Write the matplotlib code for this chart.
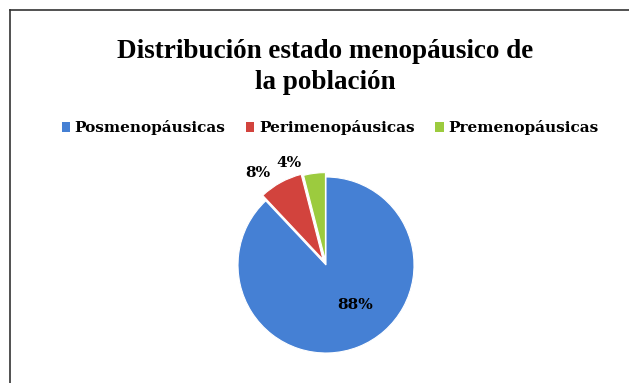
import matplotlib
matplotlib.use("Agg")
import matplotlib.pyplot as plt
from matplotlib.lines import Line2D
from matplotlib.patches import Patch
import numpy as np

categories = ["Posmenopáusicas", "Perimenopáusicas", "Premenopáusicas"]
values = [88, 8, 4]
labels = ["88%", "8%", "4%"]
colors = ["#4580D4", "#D2433D", "#9CCB3E"]
title = "Distribución estado menopáusico de\nla población"

W, H = 629, 383
fig = plt.figure(figsize=(W / 100, H / 100), dpi=100)
fig.patch.set_facecolor("white")

# border lines
fig.add_artist(Line2D([9.5 / W, 9.5 / W], [0, 1 - 9.5 / H], color="#333333", lw=1.2))
fig.add_artist(Line2D([9.5 / W, 1], [1 - 9.5 / H, 1 - 9.5 / H], color="#333333", lw=1.2))

heavy = ["DejaVu Serif"]

fig.text(325 / W, 1 - 67 / H, title, ha="center", va="center", fontsize=19.5,
         fontweight="bold", family="Liberation Serif", linespacing=1.3)

# pie axes
cx, cy, R = 326, 265, 88
half = 110
ax = fig.add_axes([(cx - half) / W, (H - cy - half) / H, 2 * half / W, 2 * half / H])
lim = half / R

wedges, _ = ax.pie(values, colors=colors, startangle=90, counterclock=False,
                   explode=[0, 0.07, 0.05], radius=1.0,
                   wedgeprops=dict(edgecolor="white", linewidth=0.8))
ax.set_xlim(-lim, lim)
ax.set_ylim(-lim, lim)
ax.set_aspect("equal")
ax.axis("off")

dist = [0.56, 1.30, 1.23]
ang_off = [14, 7.7, 12.8]
for w, lab, d, off in zip(wedges, labels, dist, ang_off):
    a = np.deg2rad((w.theta1 + w.theta2) / 2 + off)
    ax.text(d * np.cos(a), d * np.sin(a), lab, ha="center", va="center",
            fontsize=11, fontweight="bold", family=heavy, color="black")

handles = [Patch(facecolor=c, edgecolor="none") for c in colors]
fig.legend(handles, categories, loc="center", bbox_to_anchor=(330 / W, 1 - 128 / H),
           ncol=3, frameon=False, handlelength=0.55, handleheight=0.55,
           handletextpad=0.3, columnspacing=1.35,
           prop=dict(family=heavy, weight="bold", size=11))

fig.savefig("out.png", dpi=100, facecolor="white")
